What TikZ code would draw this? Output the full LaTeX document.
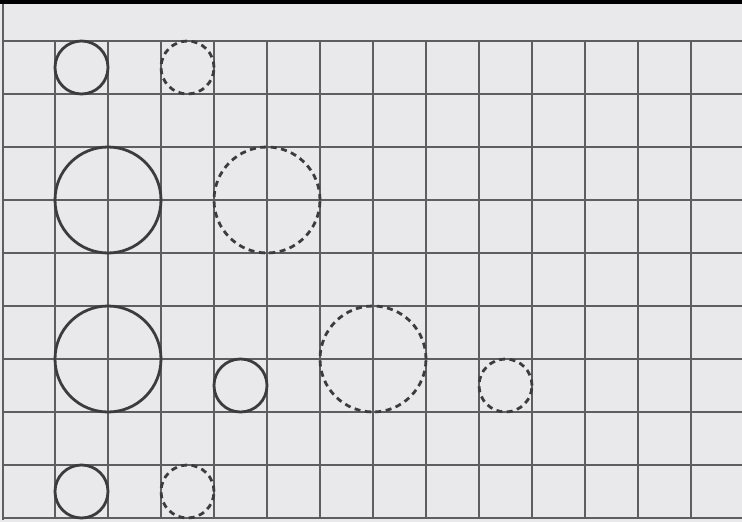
\documentclass[tikz,border=0pt]{standalone}
\definecolor{paper}{HTML}{E9E9EB}
\definecolor{gridc}{HTML}{5E5E5E}
\definecolor{inkc}{HTML}{3C3C3C}
\tikzset{
  gridline/.style={draw=gridc, line width=1.1pt},
  solidring/.style={draw=inkc, line width=2.8pt},
  dashring/.style={draw=inkc, line width=2.8pt, dash pattern=on 6pt off 4.5pt},
}
\begin{document}
\begin{tikzpicture}[x=1pt,y=-1pt]
\fill[paper] (0,0) rectangle (742,522);
\useasboundingbox (0,0) rectangle (742,522);
% top dark band
\fill[black] (0,0) rectangle (742,4);
% left edge
\draw[gridline, line width=2pt] (3,4) -- (3,520);
% horizontal grid lines
\foreach \y in {41,94,147,200,253,306,359,412,465,518}
  \draw[gridline] (3,\y) -- (742,\y);
% vertical grid lines
\foreach \x in {55,108,161,214,267,320,373,426,479,532,585,638,691}
  \draw[gridline] (\x,41) -- (\x,518);
% circles
\node[circle, solidring, minimum size=53pt, inner sep=0pt] (c1) at (81.5,67.5) {};
\node[circle, dashring, minimum size=53pt, inner sep=0pt] (c2) at (187.5,67.5) {};
\node[circle, solidring, minimum size=106pt, inner sep=0pt] (c3) at (108,200) {};
\node[circle, dashring, minimum size=106pt, inner sep=0pt] (c4) at (267,200) {};
\node[circle, solidring, minimum size=106pt, inner sep=0pt] (c5) at (108,359) {};
\node[circle, solidring, minimum size=53pt, inner sep=0pt] (c6) at (240.5,385.5) {};
\node[circle, dashring, minimum size=106pt, inner sep=0pt] (c7) at (373,359) {};
\node[circle, dashring, minimum size=53pt, inner sep=0pt] (c8) at (505.5,385.5) {};
\node[circle, solidring, minimum size=53pt, inner sep=0pt] (c9) at (81.5,491.5) {};
\node[circle, dashring, minimum size=53pt, inner sep=0pt] (c10) at (187.5,491.5) {};
\end{tikzpicture}
\end{document}
